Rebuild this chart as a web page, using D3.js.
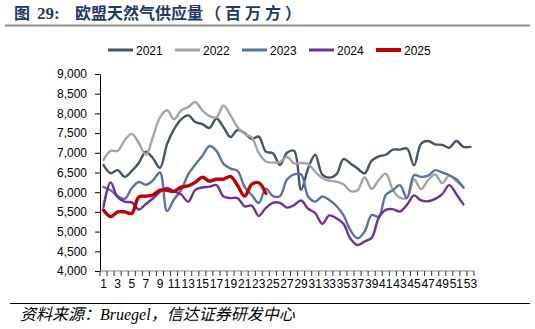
<!DOCTYPE html>
<html>
<head>
<meta charset="utf-8">
<script src="https://cdn.jsdelivr.net/npm/d3@7"></script>
<style>
  html, body { margin: 0; padding: 0; background: #fff; }
  svg { display: block; }
</style>
</head>
<body>
<svg id="chart" width="535" height="329"></svg>
<script>
// Weekly EU gas supply, million cubic metres
const weeks = d3.range(1, 54);
const tickLabels = weeks.filter(w => w % 2 === 1);

const s2021 = [6690, 6480, 6560, 6390, 6540, 6740, 7030, 6860, 6620, 7220,
               7600, 7850, 7950, 7780, 7730, 7630, 7870, 7650, 7400, 7580,
               7500, 7350, 7410, 7030, 6990, 6690, 7000, 7050, 6060, 6610,
               6950, 6450, 6370, 6450, 6840, 6730, 6600, 6480, 6800, 6910,
               6950, 7080, 7080, 7110, 6680, 7230, 7300, 7215, 7200, 7130,
               7300, 7150, 7150];
const s2022 = [6820, 7050, 7050, 7320, 7480, 7250, 6950, 7400, 7900, 8080,
               7850, 8080, 8160, 8290, 8080, 7930, 7900, 8200, 7950, 7650,
               7480, 7390, 7000, 6780, 6750, 6770, 6900, 6730, 6740, 6720,
               6520, 6360, 6290, 6270, 6200, 6030, 6050, 6380, 6080, 6310,
               6470, 6060, 5860, 5860, 6330, 6080, 6310, 6450, 6230, 6420,
               6280, 6120];
const s2023 = [6130, 6050, 5900, 5830, 6100, 6260, 6190, 6300, 6500, 5520,
               5820, 6050, 6450, 6700, 6920, 7170, 7050, 6720, 6600, 6540,
               6130, 5930, 5730, 6090, 5900, 5900, 6320, 6450, 6450, 5890,
               5760, 5890, 5800, 5650, 5420, 5030, 4830, 5000, 5420, 5380,
               5930, 6050, 6180, 5850, 6430, 6390, 6420, 6560, 6500, 6430,
               6330, 6120];
const s2024 = [5630, 6250, 5870, 5760, 5740, 5560, 5700, 5840, 6010, 6110,
               6020, 5940, 5760, 6060, 6120, 6140, 6180, 5890, 5850, 5850,
               5640, 5660, 5400, 5600, 5730, 5730, 5610, 5670, 5790, 5580,
               5470, 5200, 5410, 5340, 5200, 4820, 4660, 4750, 4840, 5350,
               5550, 5570, 5510, 5680, 5920, 5790, 5770, 5830, 5950, 6180,
               5950, 5690];
const s2025 = [5550, 5380, 5500, 5500, 5460, 5880, 5900, 5930, 6050, 6050,
               6020, 6130, 6160, 6250, 6380, 6280, 6330, 6330, 6400, 6170,
               5900, 6200, 6240, 5970];

const yTicks = [4000, 4500, 5000, 5500, 6000, 6500, 7000, 7500, 8000, 8500, 9000];

const series = [
  { name: "2021", values: s2021, color: "#44546A", width: 2.4 },
  { name: "2022", values: s2022, color: "#A5A5A5", width: 2.4 },
  { name: "2023", values: s2023, color: "#5B72A8", width: 2.4 },
  { name: "2024", values: s2024, color: "#7030A0", width: 2.4 },
  { name: "2025", values: s2025, color: "#C00000", width: 3.4 }
];

const svg = d3.select("#chart");

// Title and its rule
const titleColor = "#1B3A6B";
const cjk = "'Noto Sans CJK SC', sans-serif";
svg.append("text")
  .attr("x", 14).attr("y", 19)
  .attr("font-family", cjk).attr("font-weight", 700).attr("font-size", 16)
  .attr("fill", titleColor)
  .text("图");
svg.append("text")
  .attr("x", 37).attr("y", 19)
  .attr("font-family", "'Liberation Serif', serif").attr("font-weight", 700).attr("font-size", 17)
  .attr("fill", titleColor)
  .text("29:");
svg.append("text")
  .attr("x", 75).attr("y", 19)
  .attr("font-family", cjk).attr("font-weight", 700).attr("font-size", 16)
  .attr("fill", titleColor)
  .text("欧盟天然气供应量");
svg.append("text")
  .attr("x", 205).attr("y", 19)
  .attr("font-family", cjk).attr("font-weight", 700).attr("font-size", 16)
  .attr("letter-spacing", 4)
  .attr("fill", titleColor)
  .text("（百万方）");
svg.append("line")
  .attr("x1", 5).attr("x2", 530).attr("y1", 25.5).attr("y2", 25.5)
  .attr("stroke", "#8C8C8C").attr("stroke-width", 2);

// Scales
const x = d3.scaleBand().domain(weeks).range([100, 474]);
const y = d3.scaleLinear().domain([4000, 9000]).range([271, 74]);

// Y axis
const yAxis = svg.append("g")
  .attr("transform", "translate(100,0)")
  .call(d3.axisLeft(y).tickValues(yTicks).tickFormat(d3.format(",")).tickSize(5).tickSizeOuter(0));
yAxis.select(".domain").attr("stroke", "#000");
yAxis.selectAll(".tick line").attr("stroke", "#000");
yAxis.selectAll("text")
  .attr("font-family", "'Liberation Sans', Arial, sans-serif")
  .attr("font-size", 12).attr("fill", "#000").attr("x", -13);

// X axis: ticks at category boundaries, labels on odd weeks
const xg = svg.append("g").attr("transform", "translate(0,271)");
xg.append("line")
  .attr("x1", 100).attr("x2", 474).attr("y1", 0).attr("y2", 0)
  .attr("stroke", "#888");
const bounds = weeks.map(w => x(w)).concat([x(53) + x.bandwidth()]);
xg.selectAll("line.tk").data(bounds).join("line")
  .attr("class", "tk")
  .attr("x1", d => d).attr("x2", d => d)
  .attr("y1", 0).attr("y2", 5)
  .attr("stroke", "#333");
xg.selectAll("text").data(tickLabels).join("text")
  .attr("x", d => x(d) + x.bandwidth() / 2)
  .attr("y", 17)
  .attr("text-anchor", "middle")
  .attr("font-family", "'Liberation Sans', Arial, sans-serif")
  .attr("font-size", 12)
  .attr("fill", "#000")
  .text(d => d);

// Lines
const line = d3.line()
  .x((d, i) => x(weeks[i]) + x.bandwidth() / 2)
  .y(d => y(d))
  .curve(d3.curveCatmullRom.alpha(0.5));

svg.append("g").selectAll("path").data(series).join("path")
  .attr("d", d => line(d.values))
  .attr("fill", "none")
  .attr("stroke", d => d.color)
  .attr("stroke-width", d => d.width)
  .attr("stroke-linejoin", "round")
  .attr("stroke-linecap", "round");

// Legend
const legend = svg.append("g").attr("transform", "translate(108,50)");
const item = legend.selectAll("g").data(series).join("g")
  .attr("transform", (d, i) => `translate(${i * 67},0)`);
item.append("line")
  .attr("x1", 0).attr("x2", 25).attr("y1", 0).attr("y2", 0)
  .attr("stroke", d => d.color)
  .attr("stroke-width", d => d.width + 0.6);
item.append("text")
  .attr("x", 28).attr("y", 4.5)
  .attr("font-family", "'Liberation Sans', Arial, sans-serif")
  .attr("font-size", 12)
  .attr("fill", "#000")
  .text(d => d.name);

// Source note
svg.append("line")
  .attr("x1", 10).attr("x2", 530).attr("y1", 303.5).attr("y2", 303.5)
  .attr("stroke", "#000").attr("stroke-width", 1);
svg.append("text")
  .attr("x", 20).attr("y", 320)
  .attr("font-family", "'Liberation Serif', 'Noto Sans CJK SC', serif")
  .attr("font-style", "italic")
  .attr("font-size", 16)
  .attr("fill", "#000")
  .text("资料来源：Bruegel，信达证券研发中心");
</script>
</body>
</html>
